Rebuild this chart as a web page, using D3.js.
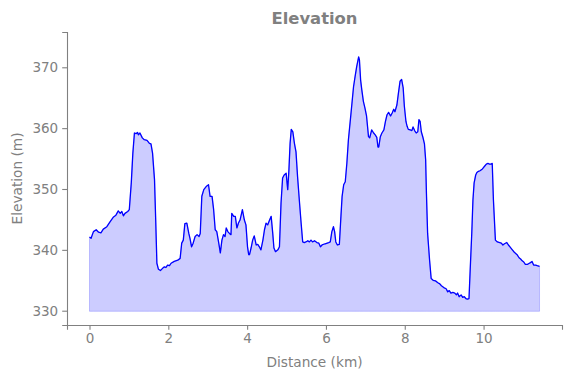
<!DOCTYPE html>
<html><head><meta charset="utf-8">
<script src="https://cdn.jsdelivr.net/npm/d3@7"></script>
<style>body{margin:0;background:#fff}svg{display:block}</style>
</head><body>
<script>
const distanceKm = [0.00,0.04,0.10,0.17,0.23,0.29,0.35,0.44,0.52,0.61,0.67,0.73,0.78,0.82,0.86,0.90,0.97,1.01,1.06,1.10,1.14,1.18,1.22,1.24,1.28,1.34,1.39,1.46,1.52,1.56,1.60,1.65,1.68,1.71,1.75,1.80,1.86,1.90,1.94,1.98,2.03,2.07,2.15,2.24,2.30,2.34,2.38,2.42,2.47,2.52,2.55,2.59,2.63,2.68,2.73,2.78,2.81,2.85,2.90,2.96,3.02,3.06,3.11,3.15,3.19,3.23,3.28,3.32,3.36,3.40,3.44,3.47,3.51,3.55,3.59,3.61,3.66,3.70,3.74,3.78,3.82,3.88,3.93,3.97,4.01,4.04,4.06,4.10,4.14,4.18,4.23,4.27,4.31,4.35,4.40,4.44,4.48,4.52,4.57,4.61,4.65,4.68,4.72,4.78,4.82,4.86,4.90,4.94,4.99,5.01,5.03,5.06,5.09,5.12,5.16,5.20,5.24,5.28,5.33,5.37,5.41,5.45,5.49,5.54,5.58,5.62,5.66,5.71,5.77,5.82,5.86,5.90,5.98,6.07,6.11,6.15,6.19,6.22,6.25,6.29,6.34,6.38,6.41,6.45,6.49,6.53,6.57,6.62,6.66,6.70,6.74,6.78,6.83,6.85,6.88,6.91,6.95,6.99,7.03,7.08,7.11,7.16,7.21,7.25,7.29,7.32,7.34,7.38,7.42,7.47,7.51,7.55,7.59,7.64,7.68,7.72,7.75,7.80,7.84,7.88,7.92,7.96,7.99,8.03,8.06,8.09,8.14,8.18,8.21,8.25,8.29,8.33,8.36,8.39,8.42,8.46,8.50,8.53,8.55,8.58,8.63,8.67,8.72,8.78,8.84,8.89,8.93,8.99,9.05,9.09,9.13,9.17,9.22,9.27,9.31,9.34,9.38,9.43,9.47,9.51,9.55,9.59,9.63,9.66,9.70,9.73,9.76,9.80,9.83,9.87,9.91,9.97,10.02,10.07,10.11,10.15,10.19,10.22,10.25,10.30,10.35,10.41,10.45,10.49,10.53,10.59,10.63,10.68,10.73,10.78,10.85,10.90,10.94,10.98,11.02,11.06,11.11,11.16,11.19,11.23,11.27,11.32,11.36,11.42];
const elevationM = [342.1,341.9,343.0,343.3,342.9,342.8,343.4,343.8,344.6,345.4,345.7,346.4,346.0,346.3,345.6,346.0,346.3,346.6,351.0,355.9,359.2,359.1,359.3,358.9,359.2,358.4,358.1,358.0,357.5,357.4,355.9,351.5,344.9,337.8,336.8,336.6,337.0,337.2,337.1,337.5,337.4,337.8,338.1,338.3,338.6,341.1,341.6,344.3,344.4,342.7,341.9,340.5,341.1,342.2,342.5,342.2,342.7,348.8,349.9,350.4,350.7,348.8,348.8,346.6,343.3,343.0,341.1,339.5,341.6,342.5,342.2,343.6,343.0,342.7,342.5,346.0,345.5,345.5,343.6,344.4,344.9,346.6,344.9,344.1,340.5,339.2,339.2,340.3,341.6,342.3,340.8,340.9,340.5,340.0,341.6,343.3,344.4,344.1,344.9,345.5,342.7,340.3,339.7,340.0,340.5,347.7,351.8,352.3,352.6,351.2,349.9,353.1,357.5,359.8,359.4,357.5,356.1,352.0,347.7,344.4,341.3,341.2,341.3,341.5,341.3,341.6,341.3,341.5,341.2,341.1,340.5,340.8,341.0,341.2,341.3,343.0,343.8,343.0,341.3,340.8,340.9,345.5,348.8,350.7,351.2,354.2,358.1,361.4,364.1,366.8,368.5,370.1,371.7,371.2,367.9,366.3,364.4,363.3,362.0,358.6,358.4,359.7,359.2,358.9,358.5,356.9,356.9,358.6,359.2,359.7,361.1,362.2,362.6,362.0,362.5,363.1,362.7,363.8,365.8,367.7,368.0,366.6,363.6,361.1,360.3,359.8,359.7,359.6,360.2,359.6,359.2,359.4,361.4,361.1,359.4,358.5,357.4,354.8,349.3,342.7,338.3,335.3,335.0,334.9,334.6,334.4,334.1,333.8,333.6,333.1,333.3,332.9,333.0,332.9,332.6,332.9,332.3,332.6,332.2,332.3,332.0,331.9,332.0,336.7,342.7,348.2,351.0,352.3,352.7,352.9,353.0,353.3,353.7,354.1,354.2,354.1,354.1,354.2,348.2,341.6,341.3,341.2,341.1,340.8,341.0,341.2,340.8,340.4,340.0,339.6,339.2,338.7,338.5,338.2,338.0,337.6,337.6,337.8,337.9,338.1,337.5,337.5,337.4,337.3];
const xTicks = [0,2,4,6,8,10];
const yTicks = [330,340,350,360,370];
const fillBase = 329.9;
const titleText = "Elevation";
const xLabel = "Distance (km)";
const yLabel = "Elevation (m)";

const W = 571, H = 378;
const m = {left:67, top:32, right:9, bottom:53};
const grey = "#808080";
const font = "DejaVu Sans, sans-serif";

const svg = d3.select("body").append("svg").attr("width", W).attr("height", H);
const x = d3.scaleLinear().domain([-0.571, 11.99]).range([m.left, W - m.right]);
const y = d3.scaleLinear().domain([327.65, 375.8]).range([H - m.bottom, m.top]);

const data = distanceKm.map((d,i)=>({d, e: elevationM[i]}));

svg.append("path").datum(data)
  .attr("d", d3.area().x(p=>x(p.d)).y0(y(fillBase)).y1(p=>y(p.e)))
  .attr("fill", "blue").attr("fill-opacity", 0.2)
  .attr("stroke", "blue").attr("stroke-opacity", 0.2).attr("stroke-width", 1);

svg.append("path").datum(data)
  .attr("d", d3.line().x(p=>x(p.d)).y(p=>y(p.e)))
  .attr("fill", "none").attr("stroke", "blue").attr("stroke-width", 1.3)
  .attr("stroke-linejoin", "round");

const xAxis = svg.append("g").attr("transform", `translate(0,${H - m.bottom})`)
  .call(d3.axisBottom(x).tickValues(xTicks).tickFormat(d3.format("d")).tickSizeOuter(0).tickSize(4.8).tickPadding(4));
const yAxis = svg.append("g").attr("transform", `translate(${m.left},0)`)
  .call(d3.axisLeft(y).tickValues(yTicks).tickFormat(d3.format("d")).tickSizeOuter(0).tickSize(4.8).tickPadding(4));
[xAxis, yAxis].forEach(g=>{
  g.select(".domain").attr("stroke", grey).attr("stroke-width", 1.1);
  g.selectAll(".tick line").attr("stroke", grey).attr("stroke-width", 1.1);
  g.selectAll(".tick text").attr("fill", grey).attr("font-family", font).attr("font-size", "13.5px");
});

svg.append("text").attr("x", (m.left + W - m.right)/2).attr("y", 24)
  .attr("text-anchor", "middle").attr("font-family", font).attr("font-weight", "bold")
  .attr("font-size", "16.4px").attr("fill", grey).text(titleText);
svg.append("text").attr("x", (m.left + W - m.right)/2).attr("y", 367)
  .attr("text-anchor", "middle").attr("font-family", font)
  .attr("font-size", "13.7px").attr("fill", grey).text(xLabel);
svg.append("text").attr("transform", `translate(22,${(m.top + H - m.bottom)/2}) rotate(-90)`)
  .attr("text-anchor", "middle").attr("font-family", font)
  .attr("font-size", "13.7px").attr("fill", grey).text(yLabel);
</script>
</body></html>
